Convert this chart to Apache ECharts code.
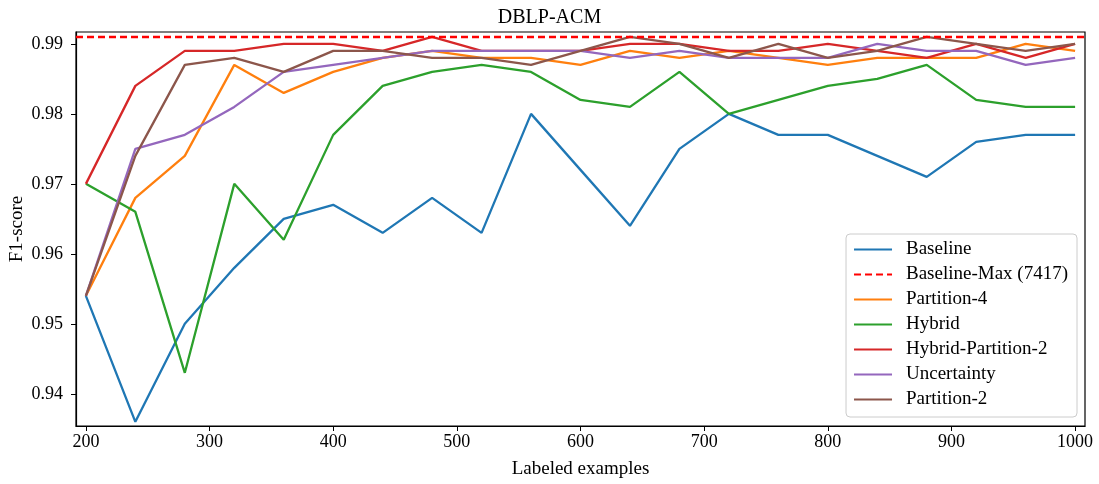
<!DOCTYPE html>
<html>
<head>
<meta charset="utf-8">
<script src="https://cdn.jsdelivr.net/npm/echarts@6/dist/echarts.min.js"></script>
<style>
html, body { margin: 0; padding: 0; background: #fff; }
#main { width: 1099px; height: 484px; }
</style>
</head>
<body>
<div id="main"></div>
<script>
// 横轴: 标注样本数
var labeled = [200, 240, 280, 320, 360, 400, 440, 480, 520, 560, 600,
    640, 680, 720, 760, 800, 840, 880, 920, 960, 1000];

var baseline = [0.954, 0.936, 0.950, 0.958, 0.965, 0.967, 0.963, 0.968, 0.963, 0.980, 0.972,
    0.964, 0.975, 0.980, 0.977, 0.977, 0.974, 0.971, 0.976, 0.977, 0.977];
var partition4 = [0.954, 0.968, 0.974, 0.987, 0.983, 0.986, 0.988, 0.989, 0.988, 0.988, 0.987,
    0.989, 0.988, 0.989, 0.988, 0.987, 0.988, 0.988, 0.988, 0.990, 0.989];
var hybrid = [0.970, 0.966, 0.943, 0.970, 0.962, 0.977, 0.984, 0.986, 0.987, 0.986, 0.982,
    0.981, 0.986, 0.980, 0.982, 0.984, 0.985, 0.987, 0.982, 0.981, 0.981];
var hybridPartition2 = [0.970, 0.984, 0.989, 0.989, 0.990, 0.990, 0.989, 0.991, 0.989, 0.989, 0.989,
    0.990, 0.990, 0.989, 0.989, 0.990, 0.989, 0.988, 0.990, 0.988, 0.990];
var uncertainty = [0.954, 0.975, 0.977, 0.981, 0.986, 0.987, 0.988, 0.989, 0.989, 0.989, 0.989,
    0.988, 0.989, 0.988, 0.988, 0.988, 0.990, 0.989, 0.989, 0.987, 0.988];
var partition2 = [0.954, 0.974, 0.987, 0.988, 0.986, 0.989, 0.989, 0.988, 0.988, 0.987, 0.989,
    0.991, 0.990, 0.988, 0.990, 0.988, 0.989, 0.991, 0.990, 0.989, 0.990];
var baselineMax = 0.991;

var xTicks = [200, 300, 400, 500, 600, 700, 800, 900, 1000];
var yTicks = [0.94, 0.95, 0.96, 0.97, 0.98, 0.99];

var font = '"Liberation Serif", "DejaVu Serif", serif';

function pairs(vals) {
    var out = [];
    for (var i = 0; i < labeled.length; i++) {
        out.push([labeled[i], vals[i]]);
    }
    return out;
}

function lineSeries(name, vals, color) {
    return {
        name: name,
        type: 'line',
        data: pairs(vals),
        showSymbol: false,
        symbol: 'none',
        lineStyle: { color: color, width: 2.3 },
        itemStyle: { color: color },
        z: 3
    };
}

var myChart = echarts.init(document.getElementById('main'));

var option = {
    animation: false,
    backgroundColor: '#fff',
    title: {
        text: 'DBLP-ACM',
        left: 'center',
        top: 3,
        textStyle: { fontFamily: font, fontSize: 20, fontWeight: 'normal', color: '#000' }
    },
    legend: {
        orient: 'vertical',
        right: 22,
        bottom: 67,
        padding: [6, 9, 8, 7],
        itemGap: 6,
        itemWidth: 38,
        itemHeight: 14,
        backgroundColor: 'rgba(255,255,255,0.85)',
        borderColor: '#cccccc',
        borderWidth: 1,
        borderRadius: 4,
        itemStyle: { opacity: 0 },
        textStyle: { fontFamily: font, fontSize: 19, lineHeight: 19, color: '#000', padding: [0, 0, 0, 9] },
        data: ['Baseline', 'Baseline-Max (7417)', 'Partition-4', 'Hybrid',
            'Hybrid-Partition-2', 'Uncertainty', 'Partition-2']
    },
    grid: {
        left: 76, right: 14, top: 32, bottom: 58,
        outerBoundsMode: 'none',
        containLabel: false,
        show: true, borderColor: '#000', borderWidth: 1.2
    },
    xAxis: {
        type: 'value',
        min: 192,
        max: 1008,
        name: 'Labeled examples',
        nameLocation: 'middle',
        nameGap: 34,
        nameMoveOverlap: false,
        nameTextStyle: { fontFamily: font, fontSize: 19, color: '#000' },
        axisLine: { show: true, lineStyle: { color: '#000', width: 1.2 } },
        axisTick: { show: true, length: 5, lineStyle: { color: '#000' }, customValues: xTicks },
        axisLabel: {
            fontFamily: font, fontSize: 18, color: '#000', margin: 7, customValues: xTicks,
            formatter: function (v) { return String(v); }
        },
        splitLine: { show: false }
    },
    yAxis: {
        type: 'value',
        min: 0.9354,
        max: 0.9917,
        name: 'F1-score',
        nameLocation: 'middle',
        nameGap: 49,
        nameMoveOverlap: false,
        nameTextStyle: { fontFamily: font, fontSize: 19, color: '#000' },
        axisLine: { show: true, lineStyle: { color: '#000', width: 1.2 } },
        axisTick: { show: true, length: 5, lineStyle: { color: '#000' }, customValues: yTicks },
        axisLabel: {
            fontFamily: font, fontSize: 18, color: '#000', margin: 13, customValues: yTicks,
            formatter: function (v) { return v.toFixed(2); }
        },
        splitLine: { show: false }
    },
    series: [
        lineSeries('Baseline', baseline, '#1f77b4'),
        {
            name: 'Baseline-Max (7417)',
            type: 'line',
            data: [],
            symbol: 'none',
            lineStyle: { color: '#ff0000', width: 2.3, type: [7, 4] },
            itemStyle: { color: '#ff0000' },
            markLine: {
                silent: true,
                symbol: 'none',
                precision: 4,
                label: { show: false },
                lineStyle: { color: '#ff0000', width: 2.3, type: [7, 4] },
                data: [{ yAxis: baselineMax }]
            }
        },
        lineSeries('Partition-4', partition4, '#ff7f0e'),
        lineSeries('Hybrid', hybrid, '#2ca02c'),
        lineSeries('Hybrid-Partition-2', hybridPartition2, '#d62728'),
        lineSeries('Uncertainty', uncertainty, '#9467bd'),
        lineSeries('Partition-2', partition2, '#8c564b')
    ]
};

myChart.setOption(option);
</script>
</body>
</html>
